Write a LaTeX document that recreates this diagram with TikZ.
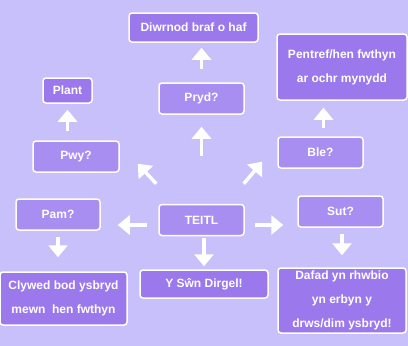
\documentclass[tikz,border=0pt]{standalone}
\usepackage{fontspec}
\setmainfont{Liberation Sans}
\usetikzlibrary{arrows.meta}
\definecolor{bgcol}{HTML}{C8C0FA}
\definecolor{qcol}{HTML}{A98EF2}
\definecolor{acol}{HTML}{9B78EC}

\begin{document}
\begin{tikzpicture}[
  x=1pt, y=-1pt,
  qbox/.style={draw=white, fill=qcol, line width=1.5pt, rounded corners=3pt, text=white, align=center, inner sep=0pt, font=\bfseries\fontsize{12}{24}\selectfont},
  abox/.style={qbox, fill=acol},
  arrow/.style={-{Triangle[width=19pt,length=12pt]}, line width=3.5pt, white}
]
\fill[bgcol] (0,0) rectangle (408,346);
\useasboundingbox (0,0) rectangle (408,346);

% questions
\node[qbox, minimum width=85pt, minimum height=31pt] (teitl) at (201.5,220) {TEITL};
\node[qbox, minimum width=85pt, minimum height=31pt] (pryd) at (201.5,98.5) {Pryd?};
\node[qbox, minimum width=86pt, minimum height=31pt] (pwy) at (76,156.5) {Pwy?};
\node[qbox, minimum width=85pt, minimum height=31pt] (ble) at (320.5,152.5) {Ble?};
\node[qbox, minimum width=84pt, minimum height=31pt] (pam) at (58,214.5) {Pam?};
\node[qbox, minimum width=85pt, minimum height=31pt] (sut) at (340.5,211.5) {Sut?};

% answers
\node[abox, minimum width=129pt, minimum height=29pt] (diwrnod) at (193.5,27.5) {Diwrnod braf o haf};
\node[abox, minimum width=49pt, minimum height=25pt] (plant) at (67.5,90.5) {Plant};
\node[abox, minimum width=130pt, minimum height=66pt] (pentref) at (342,67) {Pentref/hen fwthyn\\ar ochr mynydd};
\node[abox, minimum width=127pt, minimum height=53pt] (clywed) at (63.5,298.5) {Clywed bod ysbryd\\mewn~ hen fwthyn};
\node[abox, minimum width=128pt, minimum height=28pt] (swn) at (204,284) {Y Sŵn Dirgel!};
\node[abox, minimum width=128pt, minimum height=65pt] (dafad) at (342,300.5) {Dafad yn rhwbio\\yn erbyn y\\drws/dim ysbryd!};

% arrows
\draw[arrow, shorten <=13pt, shorten >=5pt] (pryd.north) -- (pryd.north |- diwrnod.south);
\draw[arrow, shorten <=48pt, shorten >=12pt] (teitl.north) -- (pryd.south);
\draw[arrow, shorten <=9pt, shorten >=6pt] (pwy.north -| plant.south) -- (plant.south);
\draw[arrow, shorten <=8pt, shorten >=7pt] ([xshift=3pt]ble.north) -- ([xshift=3pt]ble.north |- pentref.south);
\draw[arrow] ([shift={(-2,-20)}]teitl.north west) -- ([shift={(18,-9)}]pwy.south east);
\draw[arrow] ([shift={(-1,-20)}]teitl.north east) -- ([shift={(-15,-7)}]ble.south west);
\draw[arrow, shorten <=11pt, shorten >=17pt] ([yshift=-5pt]teitl.west) -- ([yshift=-5pt]teitl.west -| pam.east);
\draw[arrow, shorten <=10pt, shorten >=14pt] ([yshift=-5pt]teitl.east) -- ([yshift=-5pt]teitl.east -| sut.west);
\draw[arrow, shorten <=6pt, shorten >=14pt] (pam.south) -- (pam.south |- clywed.north);
\draw[arrow, shorten <=2pt, shorten >=3pt] (teitl.south -| swn.north) -- (swn.north);
\draw[arrow, shorten <=6pt, shorten >=12pt] (sut.south -| dafad.north) -- (dafad.north);
\end{tikzpicture}
\end{document}
